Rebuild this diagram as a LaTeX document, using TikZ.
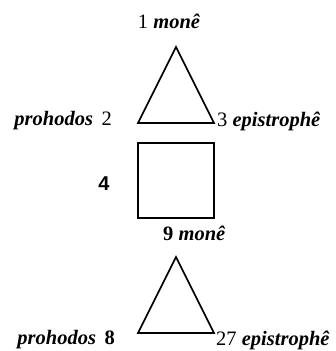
\documentclass[tikz,border=0pt]{standalone}
\usepackage{fontspec}
\setmainfont{Liberation Serif}
\setsansfont{Liberation Sans}
\begin{document}
\begin{tikzpicture}[x=1pt,y=-1pt,
  shape line/.style={draw=black, line width=1.6pt, line join=miter},
  lbl/.style={inner sep=0pt, font=\fontsize{20.5}{24}\selectfont}]
\useasboundingbox (0,0) rectangle (335,351);
% top triangle
\coordinate (t1a) at (176,47);
\coordinate (t1l) at (138,123);
\coordinate (t1r) at (214,123);
\draw[shape line] (t1a) -- (t1l) -- (t1r) -- cycle;
% square
\coordinate (sq1) at (138,143);
\coordinate (sq2) at (214,218);
\draw[shape line] (sq1) rectangle (sq2);
% bottom triangle
\coordinate (t2a) at (176,257);
\coordinate (t2l) at (138,333);
\coordinate (t2r) at (214,333);
\draw[shape line] (t2a) -- (t2l) -- (t2r) -- cycle;
% labels
\node[lbl] (l1) at (169,21) {1 \textbf{\textit{monê}}};
\node[lbl, anchor=east] (l2) at (112,121) {\textbf{\textit{prohodos}}\, 2};
\node[lbl, anchor=west] (l3) at (217,121) {3 \textbf{\textit{epistrophê}}};
\node[inner sep=0pt, font=\sffamily\bfseries\fontsize{20}{24}\selectfont] (l4) at (104,184) {4};
\node[lbl, anchor=west] (l9) at (163,233) {\textbf{9 \textit{monê}}};
\node[lbl, anchor=east] (l8) at (115,340) {\textbf{\textit{prohodos}}\, \textbf{8}};
\node[lbl, anchor=west] (l27) at (216,340) {27 \textbf{\textit{epistrophê}}};
\end{tikzpicture}
\end{document}
